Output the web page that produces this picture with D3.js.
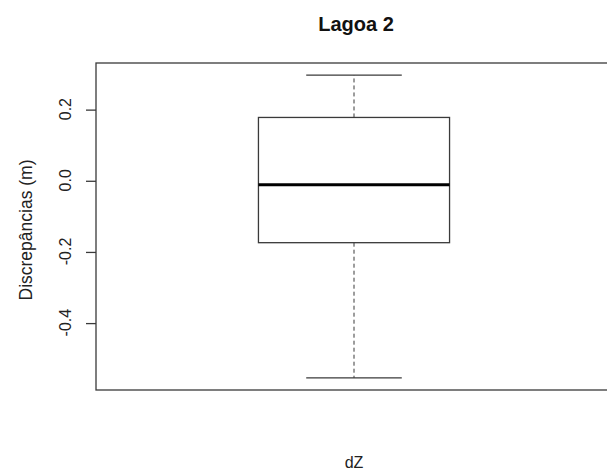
<!DOCTYPE html>
<html>
<head>
<meta charset="utf-8">
<script src="https://cdn.jsdelivr.net/npm/d3@7/dist/d3.min.js"></script>
<style>
  body { margin: 0; background: #fff; }
  svg text { font-family: "Liberation Sans", Arial, sans-serif; }
</style>
</head>
<body>
<svg id="chart" width="607" height="470"></svg>
<script>
// Five-number summary of the dZ discrepancies (m)
const categories = ["dZ"];
const whiskerLow = [-0.554];
const quartile1 = [-0.174];
const medians = [-0.011];
const quartile3 = [0.178];
const whiskerHigh = [0.297];
const yTicks = [-0.4, -0.2, 0.0, 0.2];
const yTickLabels = ["-0.4", "-0.2", "0.0", "0.2"];

const svg = d3.select("#chart");
const plotLeft = 96, plotRight = 612, plotTop = 63, plotBottom = 390;
const ink = "#3a3a3a";

// y range padded by 4% as in base R graphics
const lo = d3.min(whiskerLow), hi = d3.max(whiskerHigh);
const pad = (hi - lo) * 0.04;
const y = d3.scaleLinear().domain([lo - pad, hi + pad]).range([plotBottom, plotTop]);
const x = d3.scaleLinear().domain([0.46, 1.54]).range([plotLeft, plotRight]);

const boxHalf = 0.2, stapleHalf = 0.1;

// plot frame
svg.append("rect")
  .attr("x", plotLeft).attr("y", plotTop)
  .attr("width", plotRight - plotLeft).attr("height", plotBottom - plotTop)
  .attr("fill", "none").attr("stroke", ink).attr("stroke-width", 1.3);

// y axis
const yAxis = d3.axisLeft(y).tickValues(yTicks)
  .tickFormat((d, i) => yTickLabels[i]).tickSize(10).tickPadding(0);
const ag = svg.append("g").attr("transform", `translate(${plotLeft},0)`).call(yAxis);
ag.select(".domain").remove();
ag.selectAll(".tick line").attr("stroke", ink).attr("stroke-width", 1.3);
ag.selectAll(".tick text")
  .attr("x", null).attr("dy", null)
  .attr("transform", "translate(-31,-1) rotate(-90)")
  .attr("text-anchor", "middle")
  .attr("dominant-baseline", "central")
  .attr("font-size", 16).attr("fill", "#222");

// boxes
categories.forEach((c, i) => {
  const cx = i + 1;
  const g = svg.append("g");
  // whiskers (dashed)
  g.append("line")
    .attr("x1", x(cx)).attr("x2", x(cx))
    .attr("y1", y(quartile3[i])).attr("y2", y(whiskerHigh[i]))
    .attr("stroke", ink).attr("stroke-dasharray", "4,3");
  g.append("line")
    .attr("x1", x(cx)).attr("x2", x(cx))
    .attr("y1", y(quartile1[i])).attr("y2", y(whiskerLow[i]))
    .attr("stroke", ink).attr("stroke-dasharray", "4,3");
  // staples
  [whiskerHigh[i], whiskerLow[i]].forEach(v => {
    g.append("line")
      .attr("x1", x(cx - stapleHalf)).attr("x2", x(cx + stapleHalf))
      .attr("y1", y(v)).attr("y2", y(v))
      .attr("stroke", ink).attr("stroke-width", 1.3);
  });
  // box
  g.append("rect")
    .attr("x", x(cx - boxHalf)).attr("y", y(quartile3[i]))
    .attr("width", x(cx + boxHalf) - x(cx - boxHalf))
    .attr("height", y(quartile1[i]) - y(quartile3[i]))
    .attr("fill", "none").attr("stroke", ink).attr("stroke-width", 1.3);
  // median
  g.append("line")
    .attr("x1", x(cx - boxHalf)).attr("x2", x(cx + boxHalf))
    .attr("y1", y(medians[i])).attr("y2", y(medians[i]))
    .attr("stroke", "#000").attr("stroke-width", 3);
  // category label
  svg.append("text")
    .attr("x", x(cx)).attr("y", 468)
    .attr("text-anchor", "middle").attr("font-size", 16).attr("fill", "#222")
    .text(c);
});

// title
svg.append("text")
  .attr("x", x(1) + 2).attr("y", 31)
  .attr("text-anchor", "middle").attr("font-size", 20)
  .attr("font-weight", "bold").attr("fill", "#111")
  .text("Lagoa 2");

// y axis title
svg.append("text")
  .attr("transform", `translate(26,230) rotate(-90)`)
  .attr("text-anchor", "middle").attr("dominant-baseline", "central")
  .attr("font-size", 17.5).attr("fill", "#222")
  .text("Discrepâncias (m)");
</script>
</body>
</html>
